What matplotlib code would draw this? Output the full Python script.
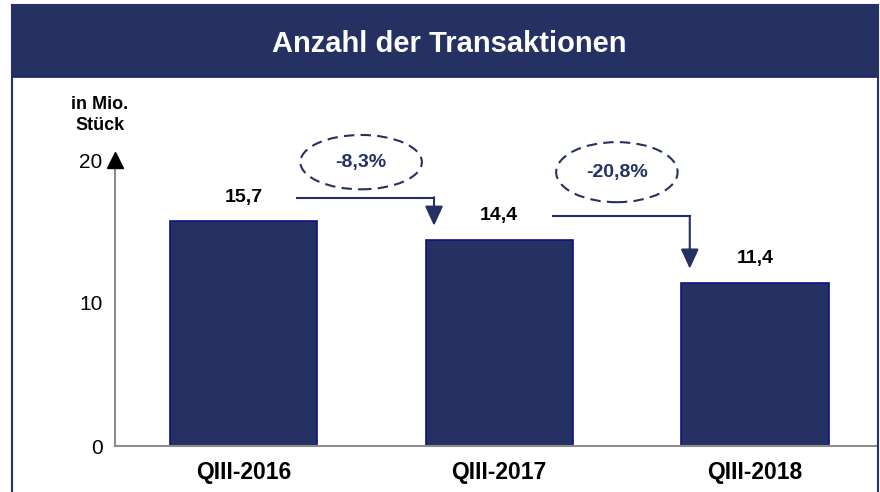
import matplotlib.pyplot as plt
from matplotlib.patches import Rectangle, Ellipse
from matplotlib.lines import Line2D

plt.rcParams['font.family'] = ['Liberation Sans', 'DejaVu Sans']

categories = ['QIII-2016', 'QIII-2017', 'QIII-2018']
values = [15.7, 14.4, 11.4]
value_labels = ['15,7', '14,4', '11,4']
change_labels = ['-8,3%', '-20,8%']

navy = '#243162'
W, H = 880, 492

fig = plt.figure(figsize=(8.8, 4.92), dpi=100)

# frame and title band (pixel coords -> figure coords)
def fx(px):
    return px / W

def fy(py):
    return 1 - py / H

fig.patches.append(Rectangle((fx(12), fy(77)), fx(866), 72 / H, transform=fig.transFigure,
                             facecolor=navy, edgecolor='#1a1f70', lw=1.2, zorder=0))
for xs, ys in [([12, 12], [5, 495]), ([878, 878], [5, 495]), ([12, 878], [5, 5])]:
    fig.lines.append(Line2D([fx(x) for x in xs], [fy(y) for y in ys], transform=fig.transFigure,
                            color='#2a2f6a', lw=1.5))
fig.text(fx(449), fy(44), 'Anzahl der Transaktionen', color='white', fontsize=21,
         fontweight='bold', ha='center', va='center')

ax = fig.add_axes([fx(115), 1 - 446 / H, fx(878 - 115), (446 - 160) / H])
x = list(range(len(values)))
ax.bar(x, values, width=0.575, color=navy, edgecolor='#10108a', lw=1.2, zorder=2)
ax.set_xlim(-0.5024, 2.481)
ax.set_ylim(0, 20)
ax.set_yticks([0, 10, 20])
ax.set_yticklabels(['0', '10', '20'], fontsize=15)
ax.set_xticks(x)
ax.set_xticklabels(categories, fontsize=16.5, fontweight='bold')
ax.tick_params(axis='y', length=0, pad=9)
ax.tick_params(axis='x', length=0, pad=11)
for s in ['top', 'right']:
    ax.spines[s].set_visible(False)
ax.spines['left'].set_color('#8c8c8c')
ax.spines['bottom'].set_color('#8c8c8c')
ax.spines['left'].set_linewidth(1.5)
ax.spines['bottom'].set_linewidth(1.5)
ax.plot([0], [20], marker='^', color='black', markersize=12, transform=ax.get_yaxis_transform(),
        clip_on=False, zorder=5)

for xi, v, lab in zip(x, values, value_labels):
    ax.annotate(lab, (xi, v), xytext=(0, 17.5), textcoords='offset points', ha='center',
                va='center', fontsize=14, fontweight='bold')

# change arrows with dashed ellipses
for i, lab in enumerate(change_labels):
    y0 = values[i] + 1.65
    x0 = i + 0.209
    x1 = i + 0.745
    tip = values[i + 1] + 1.0
    ax.plot([x0, x1], [y0, y0], color=navy, lw=1.5, clip_on=False)
    ax.annotate('', xy=(x1, tip), xytext=(x1, y0 + 0.05),
                arrowprops=dict(arrowstyle='-|>,head_length=1.2,head_width=0.55', color=navy,
                                lw=1.5, shrinkA=0, shrinkB=0), annotation_clip=False)
    cx = i + 0.46
    cy = 19.85 - 0.7 * i
    ax.add_patch(Ellipse((cx, cy), 0.475, 3.8 + 0.4 * i, fill=False, edgecolor=navy, lw=1.5,
                         ls=(0, (5, 3)), clip_on=False))
    ax.text(cx, cy, lab, color=navy, fontsize=14, fontweight='bold', ha='center', va='center')

fig.text(fx(100), fy(115), 'in Mio.\nStück', fontsize=13, fontweight='bold', ha='center',
         va='center', linespacing=1.35)

fig.savefig('out.png', dpi=100)
